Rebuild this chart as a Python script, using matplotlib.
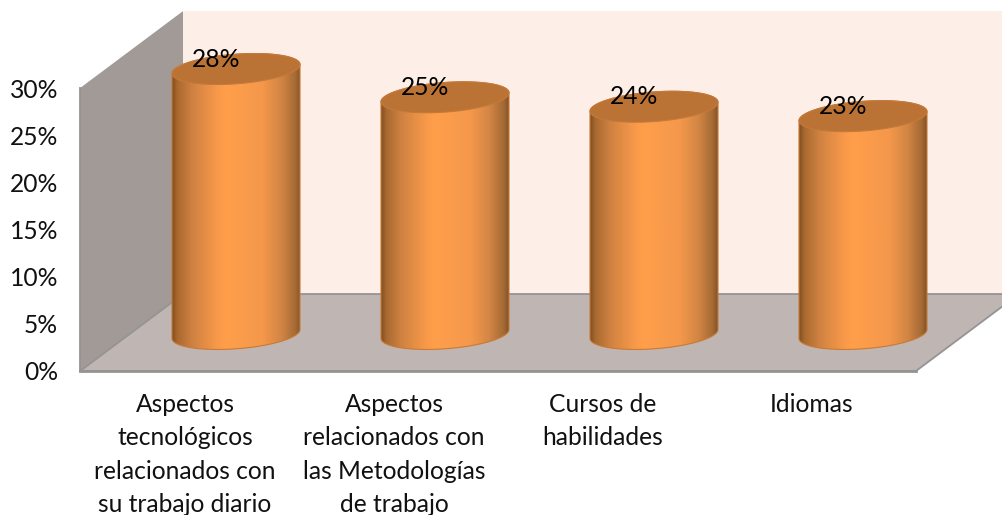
import numpy as np
import matplotlib
matplotlib.use("Agg")
import matplotlib.pyplot as plt
from matplotlib.colors import LinearSegmentedColormap
from matplotlib.patches import Polygon

categories = [
    "Aspectos\ntecnológicos\nrelacionados con\nsu trabajo diario",
    "Aspectos\nrelacionados con\nlas Metodologías\nde trabajo",
    "Cursos de\nhabilidades",
    "Idiomas",
]
values = [28, 25, 24, 23]
y_ticks = [0, 5, 10, 15, 20, 25, 30]

plt.rcParams["font.family"] = ["Lato", "DejaVu Sans"]
FONT = 17.7

# x runs in category units, y in percent
x_per_px = 1 / 209
y_per_px = 1 / 9.43

fig = plt.figure(figsize=(10.03, 5.15), dpi=100)
ax = fig.add_axes([0, 0, 1, 1])

# 3d box
left = -156 * x_per_px
right = 680 * x_per_px
depth_x = 103 * x_per_px
depth_y = 77 * y_per_px
y_top = y_ticks[-1]
edge = "#949494"

ax.add_patch(Polygon([(left + depth_x, depth_y), (right + depth_x, depth_y),
                      (right + depth_x, y_top + depth_y), (left + depth_x, y_top + depth_y)],
                     fc="#fdeee7", ec="none", zorder=1))
ax.add_patch(Polygon([(left, 0), (right, 0), (right + depth_x, depth_y), (left + depth_x, depth_y)],
                     fc="#bfb5b2", ec=edge, lw=1.3, zorder=2))
ax.add_patch(Polygon([(left, 0), (left + depth_x, depth_y),
                      (left + depth_x, y_top + depth_y), (left, y_top)],
                     fc="#a29a97", ec="none", zorder=2))
ax.plot([left, left + depth_x], [0, depth_y], color=edge, lw=1, zorder=3)
ax.plot([left, left], [0, y_top], color=edge, lw=1.3, zorder=3)
ax.plot([left, right], [0, 0], color=edge, lw=2, zorder=3)

# cylinders
base_y = 37 * y_per_px
cap_lift = 0.1
radius_x = 64 * x_per_px
radius_y = 14.8 * y_per_px
shear = 4.5 * y_per_px

body_cmap = LinearSegmentedColormap.from_list("body", [
    (0.00, "#7f4f24"), (0.04, "#a9692f"), (0.16, "#d08242"), (0.36, "#f99a4a"),
    (0.42, "#ff9f4b"), (0.70, "#f5984b"), (0.85, "#d28545"), (0.96, "#a56a34"), (1.00, "#82532a"),
])
gradient = np.linspace(0, 1, 256).reshape(1, -1)


def ellipse_points(cx, cy, t):
    return np.column_stack([cx + radius_x * np.cos(t),
                            cy + radius_y * np.sin(t) + shear * np.cos(t)])


for i, v in enumerate(values):
    top_y = base_y + v + cap_lift
    lower = ellipse_points(i, base_y, np.linspace(np.pi, 2 * np.pi, 80))
    upper = ellipse_points(i, top_y, np.linspace(0, np.pi, 80))
    body = Polygon(np.vstack([lower, upper]), fc="none", ec="#c97a33", lw=0.8, zorder=5)
    ax.add_patch(body)
    im = ax.imshow(gradient, cmap=body_cmap, aspect="auto", zorder=4,
                   extent=(i - radius_x, i + radius_x, base_y - 3, top_y + 3))
    im.set_clip_path(body)
    cap = ellipse_points(i, top_y, np.linspace(0, 2 * np.pi, 160))
    ax.add_patch(Polygon(cap, fc="#bb7235", ec="#c47a3a", lw=0.8, zorder=6))
    ax.text(i - 20 * x_per_px, top_y + 10 * y_per_px, f"{v}%", ha="center", va="center",
            fontsize=FONT, color="black", zorder=7)

for t in y_ticks:
    ax.text(-178 * x_per_px, t - 2 * y_per_px, f"{t}%", ha="right", va="center",
            fontsize=FONT, color="#111111")

for i, label in enumerate(categories):
    ax.text(i - 51 * x_per_px, -22 * y_per_px, label, ha="center", va="top",
            fontsize=FONT, color="#111111", linespacing=1.55)

ax.set_xlim(-236 * x_per_px, 767 * x_per_px)
ax.set_ylim(-144 * y_per_px, 371 * y_per_px)
ax.axis("off")

fig.savefig("out.png", dpi=100)
